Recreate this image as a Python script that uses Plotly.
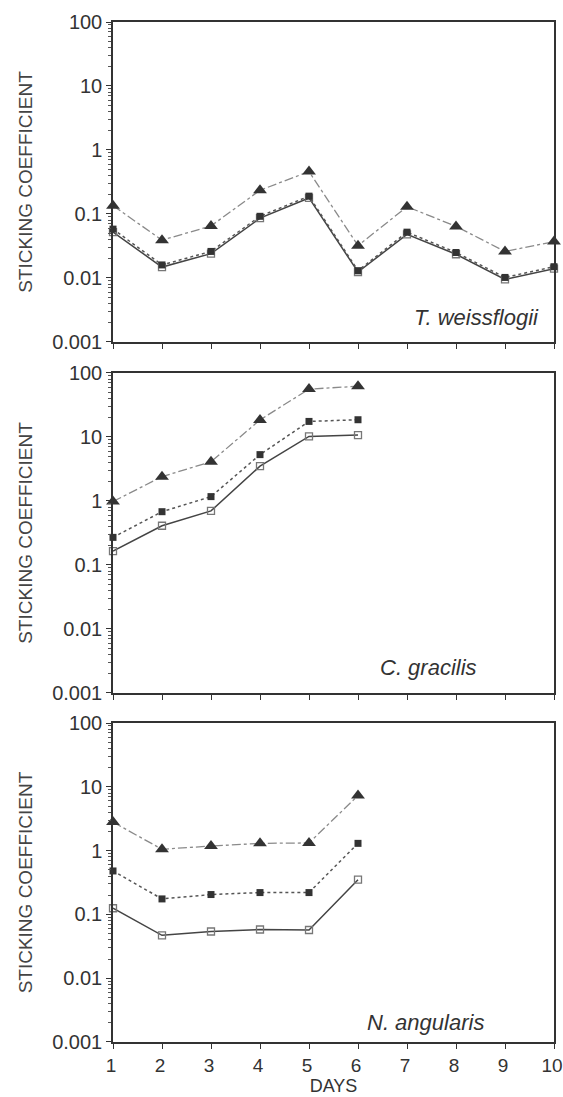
import plotly.graph_objects as go

days = [1, 2, 3, 4, 5, 6, 7, 8, 9, 10]
days_short = [1, 2, 3, 4, 5, 6]

# T. weissflogii
tw_tri = [0.135, 0.039, 0.065, 0.235, 0.46, 0.032, 0.13, 0.064, 0.026, 0.037]
tw_fill = [0.058, 0.016, 0.026, 0.092, 0.19, 0.013, 0.052, 0.025, 0.0102, 0.015]
tw_open = [0.052, 0.0148, 0.024, 0.086, 0.178, 0.0124, 0.048, 0.0235, 0.0095, 0.014]

# C. gracilis
cg_tri = [0.98, 2.4, 4.1, 18.5, 56, 62]
cg_fill = [0.27, 0.68, 1.17, 5.3, 17.5, 18.6]
cg_open = [0.165, 0.41, 0.70, 3.5, 10.2, 10.7]

# N. angularis
na_tri = [2.8, 1.05, 1.18, 1.3, 1.32, 7.3]
na_fill = [0.48, 0.175, 0.205, 0.22, 0.22, 1.3]
na_open = [0.125, 0.047, 0.054, 0.058, 0.057, 0.35]

species = ["T. weissflogii", "C. gracilis", "N. angularis"]
ytickvals = [0.001, 0.01, 0.1, 1, 10, 100]
yticktext = ["0.001", "0.01", "0.1", "1", "10", "100"]
xtickvals = list(range(1, 11))
xticktext = [str(v) for v in xtickvals]

panels = [
    (days, tw_tri, tw_fill, tw_open),
    (days_short, cg_tri, cg_fill, cg_open),
    (days_short, na_tri, na_fill, na_open),
]

FONT = "Liberation Sans, Arial, sans-serif"
fig = go.Figure()

domains = [[0.6863, 1.0], [0.3422, 0.6559], [0.0, 0.3127]]
label_pos = [(0.97, 0.075), (0.83, 0.08), (0.845, 0.0625)]

for i, (x, tri, fil, opn) in enumerate(panels):
    n = "" if i == 0 else str(i + 1)
    xa = "x" + n
    ya = "y" + n
    fig.add_trace(go.Scatter(
        x=x, y=opn, xaxis=xa, yaxis=ya, mode="lines+markers",
        line=dict(color="#444444", width=1.5, dash="solid"),
        marker=dict(symbol="square-open", size=7, color="#777777", line=dict(width=1.3)),
        showlegend=False, cliponaxis=False))
    fig.add_trace(go.Scatter(
        x=x, y=fil, xaxis=xa, yaxis=ya, mode="lines+markers",
        line=dict(color="#555555", width=1.5, dash="dot"),
        marker=dict(symbol="square", size=7, color="#333333"),
        showlegend=False, cliponaxis=False))
    fig.add_trace(go.Scatter(
        x=x, y=tri, xaxis=xa, yaxis=ya, mode="lines+markers",
        line=dict(color="#8a8a8a", width=1.3, dash="dashdot"),
        marker=dict(symbol="triangle-up", size=12, color="#333333"),
        showlegend=False, cliponaxis=False))

    last = (i == 2)
    fig.layout["xaxis" + n] = dict(
        domain=[0, 1], range=[1, 10], anchor=ya, automargin=False,
        tickmode="array", tickvals=xtickvals, ticktext=xticktext,
        showticklabels=last, ticklabeloverflow="allow", ticklabelshift=-2,
        ticks="outside", ticklen=5, tickwidth=1.2, tickcolor="#333333",
        showline=True, linecolor="#333333", linewidth=1.5, mirror=True,
        showgrid=False, zeroline=False,
        tickfont=dict(family=FONT, size=19, color="#333333"),
        title=dict(text="DAYS" if last else "", font=dict(family=FONT, size=18, color="#333333"),
                   standoff=0),
    )
    fig.layout["yaxis" + n] = dict(
        domain=domains[i], type="log", range=[-3, 2], anchor=xa, automargin=False,
        tickmode="array", tickvals=ytickvals, ticktext=yticktext,
        ticks="outside", ticklen=5, tickwidth=1.2, tickcolor="#333333",
        minor=dict(ticks="outside", ticklen=3, tickwidth=1, tickcolor="#555555",
                   dtick="D1", showgrid=False),
        showline=True, linecolor="#333333", linewidth=1.5, mirror=True,
        showgrid=False, zeroline=False,
        tickfont=dict(family=FONT, size=20, color="#333333"),
        title=dict(text="STICKING COEFFICIENT", font=dict(family=FONT, size=19, color="#444444"),
                   standoff=15),
    )
    lx, ly = label_pos[i]
    fig.add_annotation(
        text="<i>" + species[i] + "</i>", xref=xa + " domain", yref=ya + " domain",
        x=lx, y=ly, xanchor="right", yanchor="middle", showarrow=False,
        font=dict(family=FONT, size=22, color="#333333"))

fig.update_layout(
    width=563, height=1097,
    margin=dict(l=113, r=9, t=22, b=55),
    paper_bgcolor="white", plot_bgcolor="white",
)

# remove the browser's default 8px body margin so the figure fills the window exactly
fig.write_html("out.html", config={"displayModeBar": False},
               post_script="document.body.style.margin='0';document.body.style.overflow='hidden';")
